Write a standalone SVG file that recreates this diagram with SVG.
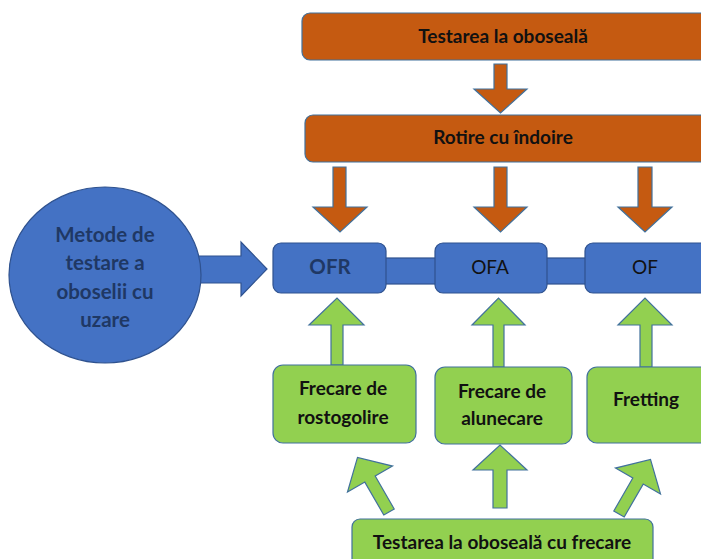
<svg xmlns="http://www.w3.org/2000/svg" width="701" height="559" viewBox="0 0 701 559">
<style>
.or{fill:#C55A11;stroke:#41719C;stroke-width:1.2}
.bl{fill:#4472C4;stroke:#2F528F;stroke-width:1.2}
.gr{fill:#92D050;stroke:#41719C;stroke-width:1.2}
text{font-family:Lato,"Open Sans","Liberation Sans",sans-serif;text-anchor:middle;dominant-baseline:central}
.tb{font-weight:bold;fill:#111;font-size:19px}
.tn{font-weight:bold;fill:#1F3864;font-size:20.5px}
.tr{fill:#111;font-size:19px}
</style>
<rect width="701" height="559" fill="#fff"/>
<g id="connectors">
<path class="or" d="M494,64 H507 V89 H527 L500.5,113 L474,89 H494 Z"/>
<path class="or" d="M333,167 H346 V207 H367 L340,232 L313,207 H333 Z"/>
<path class="or" d="M494,167 H507 V207 H527 L500.5,232 L474,207 H494 Z"/>
<path class="or" d="M638,167 H652 V207 H672 L645,232 L618,207 H638 Z"/>
<path class="bl" d="M190,256 H241 V242 L267,269 L241,296 V283 H190 Z"/>
<rect class="bl" x="384" y="258" width="53" height="26"/>
<rect class="bl" x="545" y="258" width="42" height="26"/>
<path class="gr" d="M331,365 V325 H309 L337,298 L364,325 H343 V365 Z"/>
<path class="gr" d="M493,367 V325 H472 L498.5,298 L525,325 H504 V367 Z"/>
<path class="gr" d="M640,367 V325 H618 L645,298 L672,325 H652 V367 Z"/>
<path class="gr" d="M493,508 V470 H473 L500,445 L527,470 H507 V508 Z"/>
<path class="gr" transform="translate(389,512) rotate(-30)" d="M-6,0 V-38 H-26 L0,-63 L26,-38 H6 V0 Z"/>
<path class="gr" transform="translate(619,514) rotate(30)" d="M-6,0 V-38 H-26 L0,-63 L26,-38 H6 V0 Z"/>
</g>
<g id="top1"><rect class="or" x="302" y="13" width="406" height="47" rx="8"/><text class="tb" x="503" y="35">Testarea la oboseală</text></g>
<g id="top2"><rect class="or" x="305" y="115" width="403" height="47" rx="8"/><text class="tb" x="503" y="136">Rotire cu îndoire</text></g>
<g id="metode"><ellipse class="bl" cx="105" cy="275" rx="96" ry="88"/>
<text class="tn" x="105" y="234">Metode de</text><text class="tn" x="105" y="262">testare a</text><text class="tn" x="105" y="291">oboselii cu</text><text class="tn" x="105" y="319">uzare</text></g>
<g id="ofr"><rect class="bl" x="273" y="243" width="113" height="50" rx="8"/><text class="tn" x="330" y="266">OFR</text></g>
<g id="ofa"><rect class="bl" x="435" y="243" width="112" height="50" rx="8"/><text class="tr" x="490" y="266">OFA</text></g>
<g id="of"><rect class="bl" x="585" y="243" width="125" height="50" rx="8"/><text class="tr" x="645" y="266">OF</text></g>
<g id="rostogolire"><rect class="gr" x="273" y="365" width="143" height="78" rx="10"/><text class="tb" x="343" y="387">Frecare de</text><text class="tb" x="343" y="416">rostogolire</text></g>
<g id="alunecare"><rect class="gr" x="435" y="367" width="137" height="77" rx="10"/><text class="tb" x="502" y="390">Frecare de</text><text class="tb" x="502" y="417">alunecare</text></g>
<g id="fretting"><rect class="gr" x="587" y="367" width="125" height="76" rx="10"/><text class="tb" x="646" y="398">Fretting</text></g>
<g id="bottom"><rect class="gr" x="352" y="519" width="301" height="50" rx="8"/><text class="tb" x="502" y="541">Testarea la oboseală cu frecare</text></g>
</svg>
